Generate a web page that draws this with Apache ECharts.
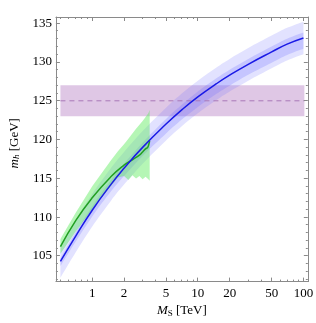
<!DOCTYPE html>
<html><head><meta charset="utf-8">
<script src="https://cdn.jsdelivr.net/npm/echarts@6/dist/echarts.min.js"></script>
<style>html,body{margin:0;padding:0;background:#fff}#c{width:316px;height:323px}</style>
</head><body><div id="c"></div>
<script>
// ---- data ----
const blueX      = [0.5, 0.7, 1, 1.5, 2, 3, 5, 7, 10, 15, 20, 30, 50, 70, 100];
const blueMid    = [104.3,107.6,110.9,114.2,116.3,119.0,122.0,123.8,125.5,127.2,128.3,129.7,131.3,132.3,133.1];
const blueOutHi  = [106.4,109.7,113.0,116.3,118.4,121.1,124.1,125.9,127.6,129.3,130.4,131.8,133.4,134.4,135.2];
const blueOutLo  = [102.2,105.5,108.8,112.1,114.2,116.9,119.9,121.7,123.4,125.1,126.2,127.6,129.2,130.2,131.0];
const blueInHi   = [104.7,108.05,111.4,114.75,116.9,119.6,122.65,124.45,126.2,127.9,129.0,130.4,132.0,133.0,133.8];
const blueInLo   = [103.7,106.9,110.1,113.3,115.3,117.9,120.8,122.55,124.2,125.9,126.95,128.35,129.9,130.9,131.7];

const greenX     = [0.5, 0.7, 1, 1.5, 2, 2.4, 2.8, 3.0, 3.2, 3.35, 3.45, 3.5];
const greenMid   = [106.2,109.6,112.5,115.2,116.7,117.4,118.0,118.4,118.8,119.0,119.5,119.8];
const gBandX     = [0.5, 0.7, 1, 1.5, 1.75, 2, 2.2, 2.4, 2.6, 2.8, 3.0, 3.2, 3.4, 3.5];
const gBandHi    = [107.2,110.6,114.0,117.3,118.5,119.4,120.1,120.8,121.4,121.9,122.4,122.9,123.4,123.8];
const gBandLo    = [105.3,108.2,111.0,114.0,115.1,115.3,114.8,115.4,115.0,115.3,114.9,115.2,114.9,114.7];

const expX       = [0.5, 102];
const expMid     = [125, 125];
const expLo      = 123;
const expHi      = 127;

const xMajor = [1, 2, 5, 10, 20, 50, 100];
const xMinor = [0.5,0.6,0.7,0.8,0.9,3,4,6,7,8,9,30,40,60,70,80,90];
const yMajor = [105,110,115,120,125,130,135];
const yMinor = [102,103,104,106,107,108,109,111,112,113,114,116,117,118,119,121,122,123,124,126,127,128,129,131,132,133,134];

// ---- build ----
const XMIN = 0.453, XMAX = 110, YMIN = 101.7, YMAX = 135.8;
const FONT = '"Liberation Serif", "DejaVu Serif", serif';
const AX = '#8a8a8a';
const pairs = (xs, ys) => xs.map((x, i) => [x, ys[i]]);

function xAx(pos, labels) {
  return {
    type: 'log', logBase: 10, min: XMIN, max: XMAX, position: pos,
    axisLine: { show: true, onZero: false, lineStyle: { color: AX, width: 1 } },
    axisTick: { show: false },
    axisLabel: { show: labels, customValues: xMajor, color: '#000', fontFamily: FONT, fontSize: 13,
      margin: 5, formatter: v => String(v) },
    splitLine: { show: false }, minorTick: { show: false }
  };
}
function yAx(pos, labels) {
  return {
    type: 'value', min: YMIN, max: YMAX, position: pos,
    axisLine: { show: true, onZero: false, lineStyle: { color: AX, width: 1 } },
    axisTick: { show: false },
    axisLabel: { show: labels, customValues: yMajor, color: '#000', fontFamily: FONT, fontSize: 13, margin: 4 },
    splitLine: { show: false }
  };
}

const xAxes = [xAx('bottom', true), xAx('top', false)];
xAxes[0].name = '{i|M}{s|S} [TeV]';
xAxes[0].nameLocation = 'middle';
xAxes[0].nameGap = 22;
xAxes[0].nameTextStyle = { fontFamily: FONT, fontSize: 13, color: '#000',
  rich: { i: { fontStyle: 'italic', fontFamily: FONT, fontSize: 13 }, s: { fontFamily: FONT, fontSize: 9, padding: [5, 0, 0, 0] } } };
const yAxes = [yAx('left', true), yAx('right', false)];
yAxes[0].name = '{i|m}{s|h} [GeV]';
yAxes[0].nameLocation = 'middle';
yAxes[0].nameGap = 30;
yAxes[0].nameRotate = 90;
yAxes[0].nameTextStyle = { fontFamily: FONT, fontSize: 13, color: '#000', padding: [0, 0, 0, 12],
  rich: { i: { fontStyle: 'italic', fontFamily: FONT, fontSize: 13 }, s: { fontStyle: 'italic', fontFamily: FONT, fontSize: 9, padding: [5, 0, 0, 0] } } };

// smooth edge (Catmull-Rom in pixel space) for band outlines
function seg(P, smooth) {
  let d = '';
  for (let i = 0; i < P.length - 1; i++) {
    const p1 = P[i], p2 = P[i + 1];
    if (!smooth) { d += ' L' + p2[0] + ' ' + p2[1]; continue; }
    const p0 = P[i - 1] || p1, p3 = P[i + 2] || p2;
    const c1 = [p1[0] + (p2[0] - p0[0]) / 6, p1[1] + (p2[1] - p0[1]) / 6];
    const c2 = [p2[0] - (p3[0] - p1[0]) / 6, p2[1] - (p3[1] - p1[1]) / 6];
    d += ' C' + c1[0] + ' ' + c1[1] + ' ' + c2[0] + ' ' + c2[1] + ' ' + p2[0] + ' ' + p2[1];
  }
  return d;
}
function band(xs, hi, lo, color, smooth, z) {
  return {
    type: 'custom', silent: true, z, clip: true,
    data: [[xs[0], lo[0]]],
    renderItem: (params, api) => {
      const U = xs.map((x, i) => api.coord([x, hi[i]]));
      const L = xs.map((x, i) => api.coord([x, lo[i]])).reverse();
      const d = 'M' + U[0][0] + ' ' + U[0][1] + seg(U, smooth) + ' L' + L[0][0] + ' ' + L[0][1] + seg(L, smooth) + ' Z';
      return { type: 'path', shape: { pathData: d }, style: { fill: color, stroke: null } };
    }
  };
}
const snap = v => Math.round(v - 0.5) + 0.5;
function ticks(values, dir, len) {
  return {
    type: 'custom', silent: true, z: 20, clip: false,
    data: values.map(v => dir === 'x' ? [v, YMIN] : [XMIN, v]),
    renderItem: (params, api) => {
      const st = { stroke: AX, lineWidth: 1 };
      if (dir === 'x') {
        const v = api.value(0);
        const b = api.coord([v, YMIN]), t = api.coord([v, YMAX]);
        const x = snap(b[0]);
        return { type: 'group', children: [
          { type: 'line', shape: { x1: x, y1: b[1], x2: x, y2: b[1] - len }, style: st },
          { type: 'line', shape: { x1: x, y1: t[1], x2: x, y2: t[1] + len }, style: st } ] };
      } else {
        const v = api.value(1);
        const l = api.coord([XMIN, v]), r = api.coord([XMAX, v]);
        const y = snap(l[1]);
        return { type: 'group', children: [
          { type: 'line', shape: { x1: l[0], y1: y, x2: l[0] + len, y2: y }, style: st },
          { type: 'line', shape: { x1: r[0], y1: y, x2: r[0] - len, y2: y }, style: st } ] };
      }
    }
  };
}

const series = [
  band(blueX, blueOutHi, blueOutLo, 'rgba(110,110,255,0.2)', true, 2),
  band(blueX, blueInHi, blueInLo, 'rgba(110,110,255,0.25)', true, 3),
  band(gBandX, gBandHi, gBandLo, 'rgba(90,235,90,0.45)', false, 4),
  { type: 'line', data: pairs(expX, expMid), symbol: 'none', z: 5, silent: true,
    lineStyle: { color: '#a878b8', width: 1, type: [5, 4] },
    markArea: { silent: true, itemStyle: { color: 'rgba(150,70,170,0.3)' },
      data: [[{ coord: [expX[0], expLo] }, { coord: [expX[1], expHi] }]] } },
  { type: 'line', data: pairs(greenX, greenMid), symbol: 'none', smooth: true, z: 6, silent: true,
    lineStyle: { color: '#22a022', width: 1.5 } },
  { type: 'line', data: pairs(blueX, blueMid), symbol: 'none', smooth: true, z: 7, silent: true,
    lineStyle: { color: '#1a1ae6', width: 1.5 } },
  ticks(xMajor, 'x', 4), ticks(xMinor, 'x', 2),
  ticks(yMajor, 'y', 4), ticks(yMinor, 'y', 2)
];

const chart = echarts.init(document.getElementById('c'), null, { renderer: 'canvas' });
chart.setOption({
  animation: false,
  backgroundColor: '#fff',
  grid: { left: 44, right: 5, top: 17, bottom: 38, containLabel: false },
  xAxis: xAxes,
  yAxis: yAxes,
  series
});
</script></body></html>
